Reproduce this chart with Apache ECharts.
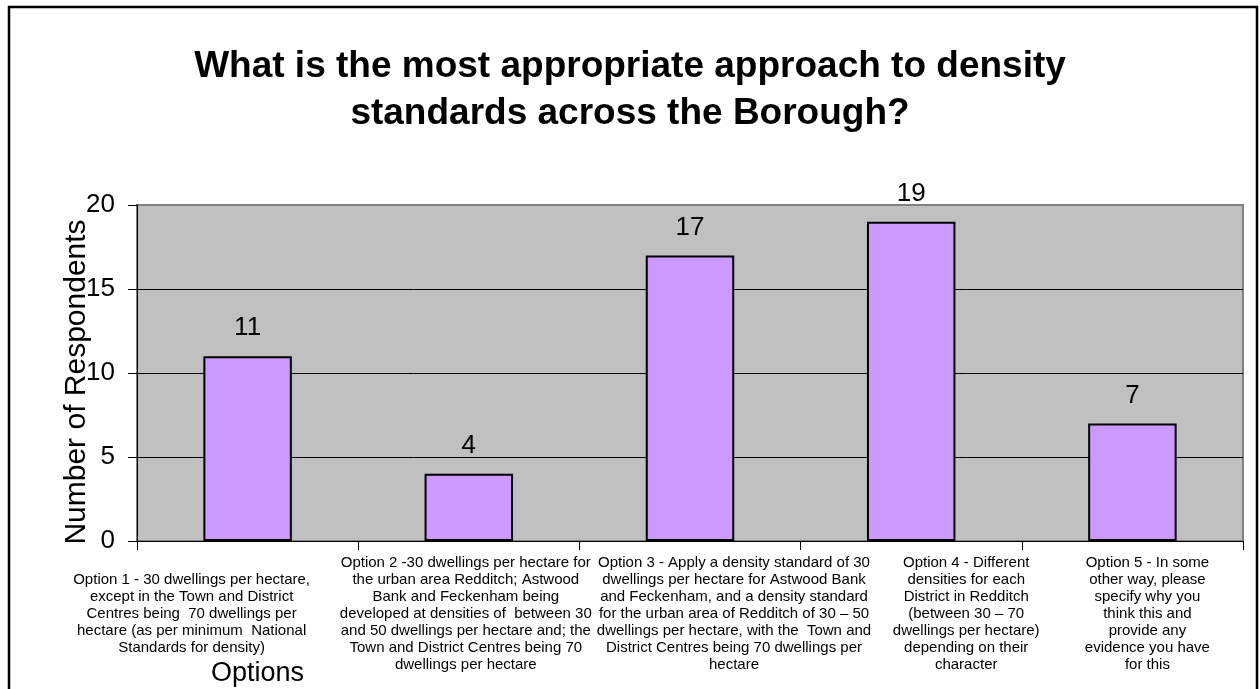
<!DOCTYPE html>
<html>
<head>
<meta charset="utf-8">
<script src="https://cdn.jsdelivr.net/npm/echarts@6/dist/echarts.min.js"></script>
<style>
  html, body { margin: 0; padding: 0; background: #fff; }
  #chart { width: 1260px; height: 689px; }
</style>
</head>
<body>
<div id="chart"></div>
<script>
// survey options (x categories)
const options = [
    'Option 1 - 30 dwellings per hectare,\nexcept in the Town and District\nCentres being  70 dwellings per\nhectare (as per minimum  National\nStandards for density)',
    'Option 2 -30 dwellings per hectare for\nthe urban area Redditch; Astwood\nBank and Feckenham being\ndeveloped at densities of  between 30\nand 50 dwellings per hectare and; the\nTown and District Centres being 70\ndwellings per hectare',
    'Option 3 - Apply a density standard of 30\ndwellings per hectare for Astwood Bank\nand Feckenham, and a density standard\nfor the urban area of Redditch of 30 – 50\ndwellings per hectare, with the  Town and\nDistrict Centres being 70 dwellings per\nhectare',
    'Option 4 - Different\ndensities for each\nDistrict in Redditch\n(between 30 – 70\ndwellings per hectare)\ndepending on their\ncharacter',
    'Option 5 - In some\nother way, please\nspecify why you\nthink this and\nprovide any\nevidence you have\nfor this'
]
const respondents = [11, 4, 17, 19, 7]
const yTicks = { min: 0, max: 20, interval: 5 }

// horizontal nudge of each category label (px), the original lays them out unevenly
const labelShift = [-56, -3, 44, 55, 15]

const chart = echarts.init(document.getElementById('chart'))
const font = '"Liberation Sans", Arial, sans-serif'

const categoryData = options.map((text, i) => {
    const s = labelShift[i]
    return {
        value: text,
        textStyle: {
            verticalAlign: 'middle',
            lineHeight: 17,
            fontSize: 15,
            padding: s < 0 ? [0, -2 * s, 0, 0] : [0, 0, 0, 2 * s]
        }
    }
})

chart.setOption({
    backgroundColor: '#fff',
    animation: false,
    textStyle: { fontFamily: font },
    title: [
        {
            text: 'What is the most appropriate approach to density\nstandards across the Borough?',
            left: 'center',
            top: 38,
            textStyle: { fontSize: 37, fontWeight: 'bold', color: '#000', lineHeight: 47, fontFamily: font }
        },
        {
            text: 'Options',
            left: 206,
            top: 655,
            textStyle: { fontSize: 27, fontWeight: 'normal', color: '#000', fontFamily: font }
        }
    ],
    graphic: [
        {
            type: 'rect',
            shape: { x: 9, y: 7, width: 1248, height: 700 },
            style: { fill: 'none', stroke: '#000', lineWidth: 2.5 },
            silent: true
        }
    ],
    grid: {
        left: 137,
        right: 17,
        top: 205,
        bottom: 148,
        show: true,
        backgroundColor: '#c0c0c0',
        borderColor: '#808080',
        borderWidth: 2,
        outerBoundsMode: 'none'
    },
    xAxis: {
        type: 'category',
        data: categoryData,
        axisLine: { lineStyle: { color: '#000', width: 1 } },
        axisTick: { show: true, length: 9, lineStyle: { color: '#000' } },
        axisLabel: {
            interval: 0,
            margin: 73,
            verticalAlign: 'middle',
            fontSize: 15,
            lineHeight: 17,
            color: '#000',
            fontFamily: font
        },
        splitLine: { show: false }
    },
    yAxis: {
        type: 'value',
        min: yTicks.min,
        max: yTicks.max,
        interval: yTicks.interval,
        name: 'Number of Respondents',
        nameLocation: 'middle',
        nameGap: 45,
        nameMoveOverlap: false,
        nameTextStyle: { fontSize: 30, color: '#000', fontFamily: font, padding: [0, 18, 0, 0] },
        axisLine: { show: true, lineStyle: { color: '#000', width: 1 } },
        axisTick: { show: true, length: 9, lineStyle: { color: '#000' } },
        axisLabel: { fontSize: 26, color: '#000', margin: 22, fontFamily: font },
        splitLine: { show: true, lineStyle: { color: ['#000', '#000', '#000', '#000', '#808080'], width: 1 } }
    },
    series: [
        {
            type: 'bar',
            data: respondents,
            barWidth: '40%',
            itemStyle: { color: '#cc99ff', borderColor: '#000', borderWidth: 2 },
            label: {
                show: true,
                position: 'top',
                distance: 15,
                fontSize: 26,
                color: '#000',
                fontFamily: font
            }
        }
    ]
})
</script>
</body>
</html>
